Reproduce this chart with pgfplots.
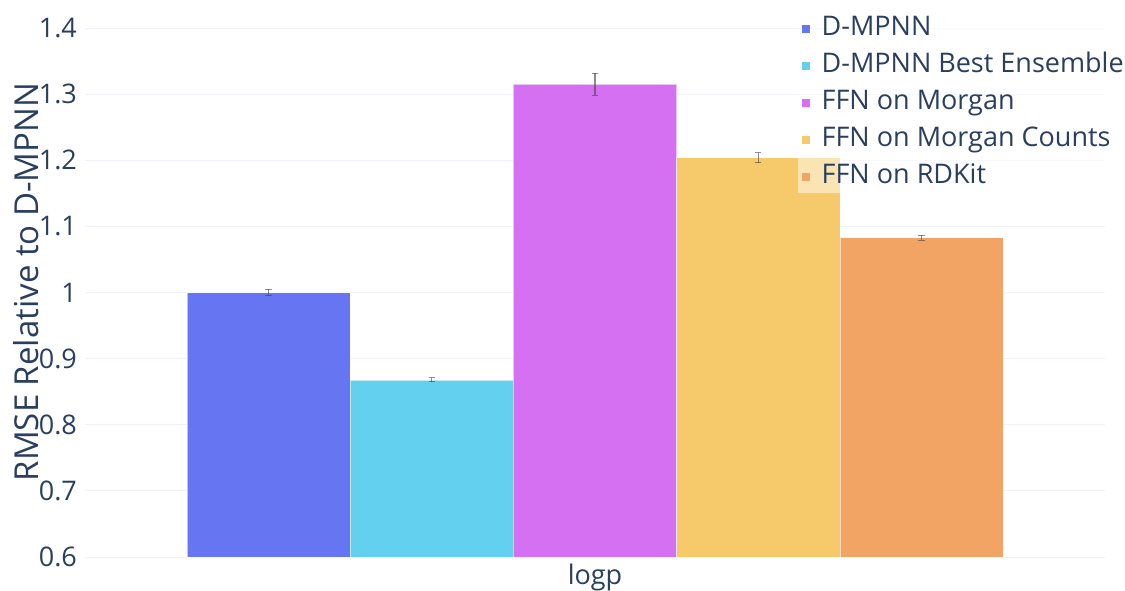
\documentclass[border=0pt]{standalone}
\usepackage{fontspec}
\setmainfont{Open Sans}
\usepackage{pgfplots}
\pgfplotsset{compat=1.18}
\definecolor{txt}{HTML}{2A3F5F}
\definecolor{gridc}{HTML}{EEF2F8}
\definecolor{c1}{HTML}{6675F2}
\definecolor{c2}{HTML}{62D0EE}
\definecolor{c3}{HTML}{D670F2}
\definecolor{c4}{HTML}{F6C96A}
\definecolor{c5}{HTML}{F2A465}
\definecolor{errc}{HTML}{444444}
\begin{document}
\begin{tikzpicture}
\path[use as bounding box] (-42.5pt,-16.5pt) rectangle (520pt,278.5pt);
\begin{axis}[
  at={(0,0)}, anchor=south west,
  scale only axis, width=510pt, height=264.5pt,
  xmin=-0.5, xmax=0.5, ymin=0.6, ymax=1.4,
  ybar, bar width=0.16, bar shift=0pt,
  xtick={0}, xticklabels={logp},
  ytick={0.6,0.7,0.8,0.9,1.0,1.1,1.2,1.3,1.4},
  ymajorgrids, major grid style={draw=gridc, line width=0.5pt},
  axis line style={draw=none},
  major tick length=0pt, tick style={draw=none},
  /pgf/number format/assume math mode=true,
  tick label style={font=\fontsize{13.5}{16}\selectfont, text=txt},
  yticklabel style={xshift=-0.5pt},
  xticklabel style={yshift=0pt},
  ylabel={RMSE Relative to D-MPNN},
  ylabel style={font=\fontsize{16.5}{19}\selectfont, text=txt, at={(axis description cs:-0.046,0.52)}, anchor=base},
  error bars/error bar style={draw=errc, line width=0.6pt},
  error bars/error mark options={draw=errc, rotate=90, mark size=1.6pt, line width=0.6pt},
  legend image code/.code={\path[#1, draw=none, fill opacity=1] (0pt,-2pt) rectangle (4pt,2pt); \path (7pt,0pt);},
  legend cell align=left,
  legend style={at={(rel axis cs:0.699,1.0312)}, anchor=north west,
    fill=white, fill opacity=0.5, text opacity=1, draw=none,
    font=\fontsize{13.5}{16}\selectfont, text=txt,
    inner xsep=2pt, inner ysep=0.6pt, row sep=3.0pt,
    nodes={text height=10pt, text depth=3.5pt, inner ysep=1pt, inner xsep=2.5pt}},
]
\addplot[fill=c1, draw=white, draw opacity=0.6, line width=0.25pt, error bars/.cd, y dir=both, y explicit]
  coordinates {(-0.32,1.000) +- (0,0.005)};
\addlegendentry{D-MPNN}
\addplot[fill=c2, draw=white, draw opacity=0.6, line width=0.25pt, error bars/.cd, y dir=both, y explicit]
  coordinates {(-0.16,0.868) +- (0,0.003)};
\addlegendentry{D-MPNN Best Ensemble}
\addplot[fill=c3, draw=white, draw opacity=0.6, line width=0.25pt, error bars/.cd, y dir=both, y explicit]
  coordinates {(0,1.315) +- (0,0.0166)};
\addlegendentry{FFN on Morgan}
\addplot[fill=c4, draw=white, draw opacity=0.6, line width=0.25pt, error bars/.cd, y dir=both, y explicit]
  coordinates {(0.16,1.204) +- (0,0.0076)};
\addlegendentry{FFN on Morgan Counts}
\addplot[fill=c5, draw=white, draw opacity=0.6, line width=0.25pt, error bars/.cd, y dir=both, y explicit]
  coordinates {(0.32,1.083) +- (0,0.0038)};
\addlegendentry{FFN on RDKit}
\end{axis}
\end{tikzpicture}
\end{document}
